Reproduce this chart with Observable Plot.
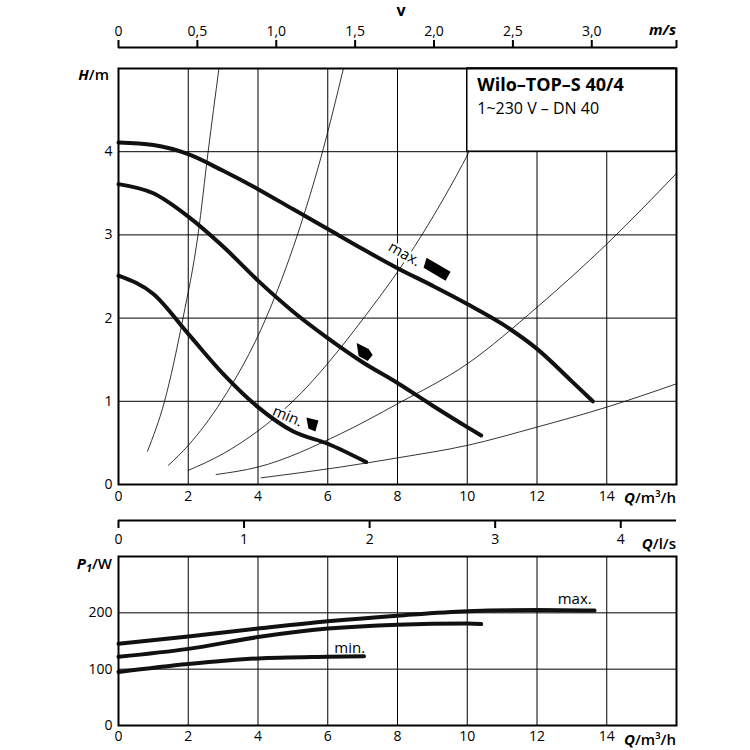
<!DOCTYPE html>
<html><head><meta charset="utf-8">
<script src="https://cdn.jsdelivr.net/npm/d3@7"></script>
<script src="https://cdn.jsdelivr.net/npm/@observablehq/plot@0.6"></script>
<style>
body{margin:0;background:#fff;}
#wrap{position:relative;width:750px;height:750px;font-family:"Open Sans",sans-serif;color:#000;overflow:hidden;}
#wrap svg{position:absolute;left:0;}
.lab{position:absolute;font-weight:600;font-size:15px;line-height:1;white-space:nowrap;}
.lab i{font-weight:700;}
</style></head><body><div id="wrap"></div>
<script>
// ---------- data ----------
const flowTicks = [0, 2, 4, 6, 8, 10, 12, 14];
const flowGrid = [2, 4, 6, 8, 10, 12, 14];
const headTicks = [0, 1, 2, 3, 4];
const headGrid = [1, 2, 3, 4];
const velTicks = [0, 0.5, 1.0, 1.5, 2.0, 2.5, 3.0, 3.537];
const lpsTicks = [0, 1, 2, 3, 4];
const powerTicks = [0, 100, 200];
const powerGrid = [100, 200];

const flowDomain = [0, 16];      // m³/h
const headDomain = [0, 5];       // m
const velDomain = [0, 3.537];    // m/s (DN 40 at 16 m³/h)
const lpsDomain = [0, 4.444];    // l/s (16 m³/h)
const powerDomain = [0, 300];    // W

// pump curves H(Q)
const headMax = [[0,4.11],[1,4.08],[2,3.97],[3,3.77],[4,3.55],[5,3.31],[6,3.07],[7,2.83],[8,2.60],[9,2.39],[10,2.17],[11,1.93],[12,1.63],[13,1.24],[13.6,1.0]];
const headMid = [[0,3.61],[1,3.50],[2,3.22],[3,2.86],[4,2.45],[5,2.08],[6,1.76],[7,1.47],[8,1.22],[9,0.95],[10,0.69],[10.4,0.59]];
const headMin = [[0,2.51],[1,2.29],[2,1.81],[3,1.33],[4,0.93],[5,0.64],[6,0.49],[7.1,0.27]];

// thin system curves
const sys1 = [[0.83,0.40],[1.32,1.0],[1.85,2.0],[2.28,3.0],[2.57,4.0],[2.88,5.0]];
const sys2 = [[1.43,0.23],[2,0.47],[2.95,1.0],[4.23,2.0],[5.13,3.0],[5.85,4.0],[6.45,5.0]];
const sys3 = [[2,0.17],[3,0.37],[5,1.0],[7.03,2.0],[8.7,3.0],[10.03,3.98],[11.2,5.0]];
const sys4 = [[2.8,0.12],[4,0.21],[6.37,0.61],[8,0.97],[10,1.45],[12,2.13],[14,2.89],[16,3.74]];
const sys5 = [[4.09,0.08],[6.37,0.21],[8,0.32],[10,0.47],[12,0.69],[14,0.93],[16,1.21]];
const systemCurves = [sys1, sys2, sys3, sys4, sys5];

// power curves P1(Q)
const powerMax = [[0,145],[2,158],[4,172],[6,185],[8,195],[10,203],[12,205],[13.65,204]];
const powerMid = [[0,122],[2,136],[4,157],[6,172],[8,179],[10,181],[10.4,180]];
const powerMin = [[0,95],[2,109],[4,119],[6,122],[7.04,123]];

// labels & speed symbols
const headLabels = [{q:8.2, h:2.77, text:"max.", rot:30}, {q:4.85, h:0.82, text:"min.", rot:23}];
const symMaxPos = [{q:9.12, h:2.58}];
const symMidPos = [{q:7.03, h:1.58}];
const symMinPos = [{q:5.56, h:0.72}];
const powerLabels = [{q:13.08, p:224, text:"max."}, {q:6.63, p:138, text:"min."}];

const titleBox = [{q1:10, q2:16, h1:4, h2:5}];
const title = "Wilo–TOP–S 40/4";
const subtitle = "1~230 V – DN 40";

// ---------- helpers ----------
const toRows = (arr) => arr.map(([q, v]) => ({q, v}));
const polySymbol = (pts) => ({draw(ctx) { ctx.moveTo(pts[0][0], pts[0][1]); for (let i = 1; i < pts.length; ++i) ctx.lineTo(pts[i][0], pts[i][1]); ctx.closePath(); }});
const symMax = polySymbol([[-10,-12],[14,2],[9,11],[-13,-2]]);
const symMid = polySymbol([[-7,-10],[5,-4],[9,2],[4,8],[-5,3]]);
const symMin = polySymbol([[-6,-7],[6,-4],[3,7],[-4,4]]);

const FONT = "Open Sans";
const baseStyle = {fontFamily: FONT, fontSize: "14px", background: "none", overflow: "visible", color: "#000"};
const L = 118, R = 74;
const wrap = document.getElementById("wrap");
function place(svg, top) { svg.style.top = top + "px"; wrap.appendChild(svg); }
const commaFmt = (d) => d === 0 ? "0" : (d > 3.1 ? "" : d.toFixed(1).replace(".", ","));
const intFmt = (d) => String(d);

// ---------- velocity axis (top) ----------
const pVel = Plot.plot({
  width: 750, height: 49, marginTop: 47, marginBottom: 1, marginLeft: L, marginRight: R,
  style: baseStyle,
  x: {domain: velDomain},
  y: {domain: [0, 1], axis: null},
  marks: [
    Plot.ruleY([1], {stroke: "#000", strokeWidth: 2}),
    Plot.axisX({anchor: "top", ticks: velTicks, tickFormat: commaFmt, tickSize: 8, tickPadding: 4, strokeWidth: 2, label: null})
  ]
});
place(pVel, 0);

// ---------- main H-Q chart ----------
const pHead = Plot.plot({
  width: 750, height: 512, marginTop: 68, marginBottom: 28, marginLeft: L, marginRight: R,
  style: baseStyle,
  x: {domain: flowDomain},
  y: {domain: headDomain},
  marks: [
    Plot.ruleX(flowGrid, {stroke: "#000", strokeWidth: 1}),
    Plot.ruleY(headGrid, {stroke: "#000", strokeWidth: 1}),
    ...systemCurves.map(c => Plot.line(toRows(c), {x: "q", y: "v", stroke: "#000", strokeWidth: 0.8, curve: "monotone-x", clip: true})),
    Plot.rect(titleBox, {x1: "q1", x2: "q2", y1: "h1", y2: "h2", fill: "#fff", stroke: "#000", strokeWidth: 1.5}),
    Plot.text(titleBox, {x: "q1", y: "h2", text: () => title, textAnchor: "start", lineAnchor: "top", dx: 10, dy: 10, fontSize: 18, fontWeight: 700}),
    Plot.text(titleBox, {x: "q1", y: "h2", text: () => subtitle, textAnchor: "start", lineAnchor: "top", dx: 10, dy: 34, fontSize: 16}),
    Plot.text(headLabels, {x: "q", y: "h", text: "text", rotate: "rot", fontSize: 15, stroke: "#fff", strokeWidth: 5, fill: "#000"}),
    Plot.line(toRows(headMax), {x: "q", y: "v", stroke: "#111", strokeWidth: 4, curve: "monotone-x"}),
    Plot.line(toRows(headMid), {x: "q", y: "v", stroke: "#111", strokeWidth: 4, curve: "monotone-x"}),
    Plot.line(toRows(headMin), {x: "q", y: "v", stroke: "#111", strokeWidth: 4, curve: "monotone-x"}),
    Plot.dot(symMaxPos, {x: "q", y: "h", symbol: symMax, fill: "#000", stroke: "none"}),
    Plot.dot(symMidPos, {x: "q", y: "h", symbol: symMid, fill: "#000", stroke: "none"}),
    Plot.dot(symMinPos, {x: "q", y: "h", symbol: symMin, fill: "#000", stroke: "none"}),
    Plot.frame({stroke: "#000", strokeWidth: 2}),
    Plot.axisY({ticks: headTicks, tickFormat: intFmt, tickSize: 0, tickPadding: 6, label: null}),
    Plot.axisX({ticks: flowTicks, tickFormat: intFmt, tickSize: 0, tickPadding: 7, label: null})
  ]
});
place(pHead, 0);

// ---------- l/s axis ----------
const pLps = Plot.plot({
  width: 750, height: 45, marginTop: 9, marginBottom: 35, marginLeft: L, marginRight: R,
  style: baseStyle,
  x: {domain: lpsDomain},
  y: {domain: [0, 1], axis: null},
  marks: [
    Plot.ruleY([0], {stroke: "#000", strokeWidth: 2}),
    Plot.axisX({anchor: "bottom", ticks: lpsTicks, tickFormat: intFmt, tickSize: 8, tickPadding: 6, strokeWidth: 2, label: null})
  ]
});
place(pLps, 510);

// ---------- power chart ----------
const pPow = Plot.plot({
  width: 750, height: 210, marginTop: 16, marginBottom: 25, marginLeft: L, marginRight: R,
  style: baseStyle,
  x: {domain: flowDomain},
  y: {domain: powerDomain},
  marks: [
    Plot.ruleX(flowGrid, {stroke: "#000", strokeWidth: 1}),
    Plot.ruleY(powerGrid, {stroke: "#000", strokeWidth: 1}),
    Plot.line(toRows(powerMax), {x: "q", y: "v", stroke: "#111", strokeWidth: 4, curve: "monotone-x"}),
    Plot.line(toRows(powerMid), {x: "q", y: "v", stroke: "#111", strokeWidth: 4, curve: "monotone-x"}),
    Plot.line(toRows(powerMin), {x: "q", y: "v", stroke: "#111", strokeWidth: 4, curve: "monotone-x"}),
    Plot.text(powerLabels, {x: "q", y: "p", text: "text", fontSize: 15}),
    Plot.frame({stroke: "#000", strokeWidth: 2}),
    Plot.axisY({ticks: powerTicks, tickFormat: intFmt, tickSize: 0, tickPadding: 6, label: null}),
    Plot.axisX({ticks: flowTicks, tickFormat: intFmt, tickSize: 0, tickPadding: 6, label: null})
  ]
});
place(pPow, 540);

// ---------- unit labels ----------
function label(html, css) { const d = document.createElement("div"); d.className = "lab"; d.innerHTML = html; Object.assign(d.style, css); wrap.appendChild(d); }
label("v", {left: "401px", top: "2px", transform: "translateX(-50%)", fontWeight: "700", fontSize: "16px"});
label("<i>m/s</i>", {right: "74px", top: "22px"});
label("<i>H</i>/m", {right: "641px", top: "67px"});
label("<i>Q</i>/m³/h", {right: "74px", top: "490px"});
label("<i>Q</i>/l/s", {right: "74px", top: "536px"});
label("<i>P<sub style='font-size:11px;vertical-align:-3px'>1</sub></i>/W", {right: "638px", top: "556px"});
label("<i>Q</i>/m³/h", {right: "74px", top: "732px"});
</script></body></html>
